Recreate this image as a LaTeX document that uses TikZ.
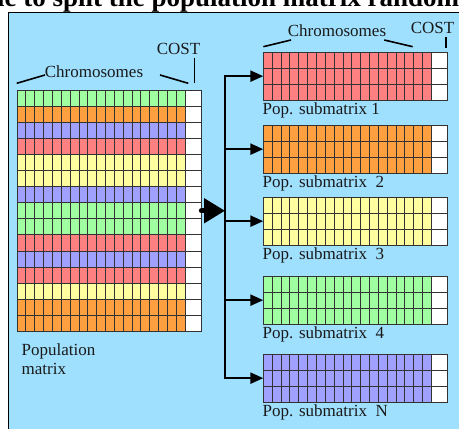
\documentclass[tikz,border=0pt]{standalone}
\usepackage{fontspec}
\setmainfont{Liberation Serif}
\usepackage{tikz}
\usetikzlibrary{arrows.meta, positioning}
\definecolor{panelblue}{RGB}{160,224,255}
\definecolor{genegreen}{RGB}{160,255,160}
\definecolor{geneorange}{RGB}{255,160,64}
\definecolor{geneblue}{RGB}{160,160,255}
\definecolor{genered}{RGB}{255,128,128}
\definecolor{geneyellow}{RGB}{255,255,160}
\pgfmathsetmacro{\cw}{8.85}
\pgfmathsetmacro{\rh}{16.1}
\pgfmathsetmacro{\cst}{16.2}
\pgfmathsetmacro{\gw}{19*\cw}
\newcommand{\generow}[3]{%
	\fill[fill = #3] (#1, #2) rectangle ++(\gw, \rh);
	\fill[white] (#1 + \gw, #2) rectangle ++(\cst, \rh);
	\foreach \k in {1, ..., 19} {\draw[cellline] (#1 + \k*\cw, #2) -- ++(0, \rh);}
	\draw[cellline] (#1, #2) rectangle ++(\gw + \cst, \rh);
}
\newcommand{\popsub}[4]{%
	\foreach \j in {0, 1, 2} {\generow{#1}{#2 + \j*\rh}{#3}}
	\coordinate (#4) at (#1, #2 + 1.5*\rh);
}

\begin{document}
\begin{tikzpicture}[x = 1pt, y = -1pt,
	txt/.style = {font = \fontsize{17}{18.5}\selectfont, inner sep = 0, text = black!90},
	cellline/.style = {draw = black!80, line width = .9pt},
	tick/.style = {line width = 1.6pt},
	branch/.style = {line width = 2.4pt, arrows = {-Triangle[length = 13pt, width = 11pt]}},
	trunk/.style = {line width = 2.4pt, line cap = rect},
	bigarrow/.style = {line width = 5pt, line cap = round, arrows = {-Triangle[length = 21pt, width = 24pt]}}]
		\useasboundingbox (0, 0) rectangle (459, 429);
		\clip (0, 0) rectangle (459, 429);
		\node[font = \bfseries\fontsize{27}{27}\selectfont, anchor = base west, inner sep = 0] (title) at (-3, 6) {le to split the population matrix randomly};
		\filldraw[fill = panelblue, draw = black, line width = 1pt] (8, 12) rectangle (470, 440);
		\foreach \col [count = \r from 0] in {genegreen, geneorange, geneblue, genered, geneyellow, geneyellow, geneblue, genegreen, genegreen, genered, geneblue, genered, geneyellow, geneorange, geneorange} {\generow{17}{90 + \r*\rh}{\col}}
		\coordinate (popmat) at (17 + \gw + \cst, 90 + 7.5*\rh);
		\coordinate (split) at (225, 90 + 7.5*\rh);
		\foreach \ytop/\col/\subno [count = \i] in {52/genered/{\ 1}, 125/geneorange/{\ \ 2}, 197/geneyellow/{\ \ 3}, 276/genegreen/{\ \ 4}, 354/geneblue/{\ \ N}} {
			\popsub{263.3}{\ytop}{\col}{sub\i}
			\node[txt, anchor = base west] (lab\i) at (262.5, \ytop + 3*\rh + 14) {Pop. submatrix\subno};
		}
		\node[txt, anchor = north west, align = left] (poplab) at (21.5, 344) {Population\\matrix};
		\node[txt, anchor = base] (chrom) at (94, 77.3) {Chromosomes};
		\node[txt, anchor = base] (cost) at (178.5, 54) {COST};
		\node[txt, anchor = base] (subchrom) at (337, 36) {Chromosomes};
		\node[txt, anchor = base] (subcost) at (432.5, 33.3) {COST};
		\draw[tick] (16.7, 83.3) -- (45, 75);
		\draw[tick] (160, 75) -- (188.3, 83.3);
		\draw[tick] (194.3, 58.3) -- (194.3, 83.3);
		\draw[tick] (263.3, 46.7) -- (291, 40);
		\draw[tick] (384.3, 40) -- (412.7, 46.7);
		\draw[tick] (446, 37.3) -- (446, 47.7);
		\draw[trunk] (split |- sub1) -- (split |- sub5);
		\foreach \i in {1, ..., 5} {\draw[branch] (split |- sub\i) -- (sub\i);}
		\draw[bigarrow] (popmat) -- (split);
	\end{tikzpicture}
\end{document}
